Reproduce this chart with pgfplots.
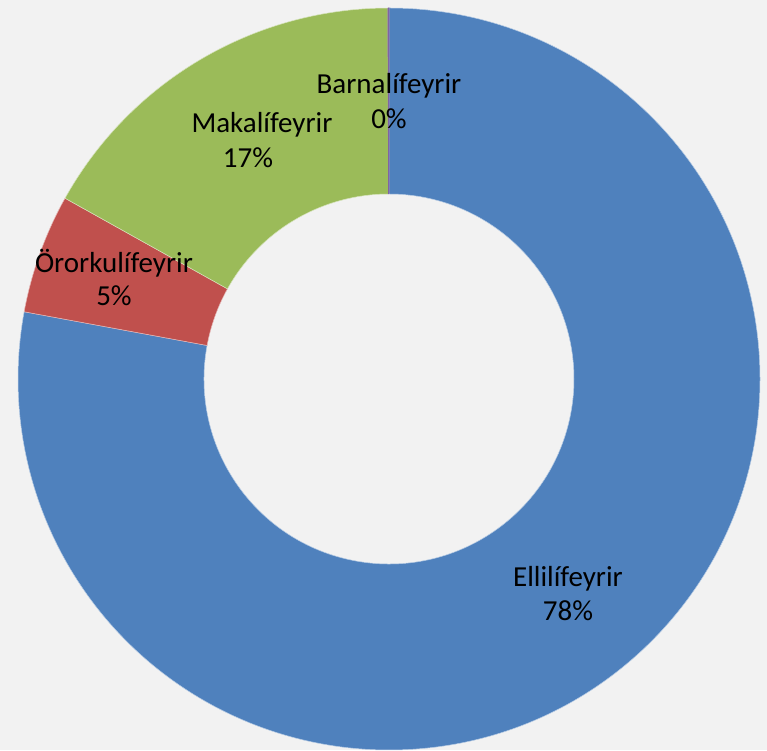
\documentclass[border=0pt]{standalone}
\usepackage{pgfplots}
\usepackage{pgfplotstable}
\pgfplotsset{compat=1.18}
\usepackage{fontspec}
\setmainfont{Carlito}
\definecolor{cBlue}{HTML}{4F81BD}
\definecolor{cRed}{HTML}{C0504D}
\definecolor{cGreen}{HTML}{9BBB59}
\definecolor{cPurple}{HTML}{8064A2}
\definecolor{cBg}{HTML}{F2F2F2}

\pgfplotstableread{
idx value
0 77.9
1 5.2
2 16.85
3 0.05
}\piedata

\pgfplotstablegetelem{0}{value}\of\piedata \let\vA\pgfplotsretval
\pgfplotstablegetelem{1}{value}\of\piedata \let\vB\pgfplotsretval
\pgfplotstablegetelem{2}{value}\of\piedata \let\vC\pgfplotsretval
\pgfplotstablegetelem{3}{value}\of\piedata \let\vD\pgfplotsretval
\pgfmathsetmacro\aO{90}
\pgfmathsetmacro\aA{\aO-3.6*\vA}
\pgfmathsetmacro\aB{\aA-3.6*\vB}
\pgfmathsetmacro\aC{\aB-3.6*\vC}
\pgfmathsetmacro\aD{\aC-3.6*\vD}

\newcommand\cx{389}
\newcommand\cy{371}
\newcommand\sector[4]{% start, end, fill, draw
  \filldraw[fill=#3,draw=#4,line width=0.5bp]
    (axis cs:{\cx+371*cos(#1)},{\cy+371*sin(#1)})
    arc[start angle=#1,end angle=#2,radius=371bp]
    -- (axis cs:{\cx+185*cos(#2)},{\cy+185*sin(#2)})
    arc[start angle=#2,end angle=#1,radius=185bp] -- cycle;}

\begin{document}
\begin{tikzpicture}
\begin{axis}[
  width=767bp, height=750bp, scale only axis,
  xmin=0, xmax=767, ymin=0, ymax=750,
  hide axis, clip=false,
]
\fill[cBg] (axis cs:0,0) rectangle (axis cs:767,750);
\sector{\aO}{\aA}{cBlue}{white!60!cBlue}
\sector{\aA}{\aB}{cRed}{white!60!cRed}
\sector{\aB}{\aC}{cGreen}{white!60!cGreen}
\sector{\aC}{\aD}{cPurple}{cPurple}
\addplot[draw=none] coordinates {(0,0) (767,750)};
\begin{scope}[every node/.style={font=\fontsize{29bp}{34bp}\selectfont, text=black, anchor=base, inner sep=0pt}]
\node at (axis cs:389,{750-94}) {Barnalífeyrir};
\node at (axis cs:389,{750-129}) {0\%};
\node at (axis cs:262,{750-133}) {Makalífeyrir};
\node at (axis cs:248,{750-168}) {17\%};
\node at (axis cs:114,{750-273}) {Örorkulífeyrir};
\node at (axis cs:114,{750-306}) {5\%};
\node at (axis cs:568,{750-587}) {Ellilífeyrir};
\node at (axis cs:568,{750-621}) {78\%};
\end{scope}
\end{axis}
\end{tikzpicture}
\end{document}
